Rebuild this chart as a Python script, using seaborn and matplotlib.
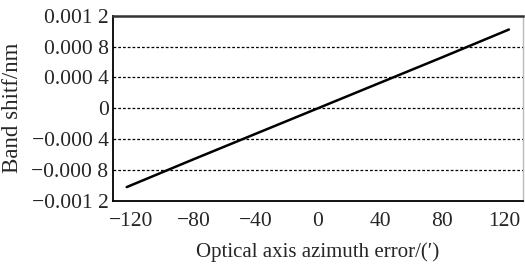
import numpy as np
import pandas as pd
import matplotlib
matplotlib.use("Agg")
import matplotlib.pyplot as plt
import seaborn as sns

# data
azimuth_err = [-123, -80, -40, 0, 40, 80, 123]
band_shift = [-0.00102, -0.00066, -0.00033, 0.0, 0.00033, 0.00066, 0.00102]

x_ticks = [-120, -80, -40, 0, 40, 80, 120]
x_minor = [-110, -90, -70, -50, -30, -10, 10, 30, 50, 70, 90, 110]
y_ticks = [-0.0012, -0.0008, -0.0004, 0, 0.0004, 0.0008, 0.0012]
y_labels = ["\u22120.001 2", "\u22120.000 8", "\u22120.000 4", "0",
            "0.000 4", "0.000 8", "0.001 2"]
grid_y = [-0.0008, -0.0004, 0, 0.0004, 0.0008]

sns.set_style("white")
plt.rcParams['font.family'] = ['Liberation Serif', 'DejaVu Serif']
plt.rcParams['font.size'] = 15

df = pd.DataFrame({"x": azimuth_err, "y": band_shift})

fig = plt.figure(figsize=(5.25, 2.68), dpi=100)
ax = fig.add_axes([0.2147, 0.25, 0.7813, 0.6917])

for g in grid_y:
    ax.axhline(g, color="black", lw=0.9, ls=(0, (2.2, 1.6)), zorder=1)

sns.lineplot(data=df, x="x", y="y", color="black", lw=1.8, ax=ax, zorder=3)

ax.set_xlim(-132, 132)
ax.set_ylim(-0.0012, 0.0012)
ax.set_xticks(x_ticks)
ax.set_xticklabels([str(v).replace("-", "\u2212") for v in x_ticks])
ax.set_xticks(x_minor, minor=True)
ax.set_yticks(y_ticks)
ax.set_yticklabels(y_labels)
ax.tick_params(axis="x", which="major", length=0, pad=8, labelsize=15.5)
ax.tick_params(axis="x", which="minor", direction="in", length=4, width=1, color="black")
ax.tick_params(axis="y", length=0, pad=3, labelsize=15.5)

for side in ["left", "bottom"]:
    ax.spines[side].set_color("black")
    ax.spines[side].set_linewidth(1.3)
ax.spines["top"].set_color("#333333")
ax.spines["top"].set_linewidth(1.8)
ax.spines["right"].set_color("#bbbbbb")
ax.spines["right"].set_linewidth(1.0)

ax.set_xlabel("Optical axis azimuth error/(\u2032)", fontsize=15, labelpad=8)
ax.set_ylabel("Band shitf/nm", fontsize=16.5)
ax.yaxis.set_label_coords(-0.219, 0.5)

fig.savefig("out.png", dpi=100)
